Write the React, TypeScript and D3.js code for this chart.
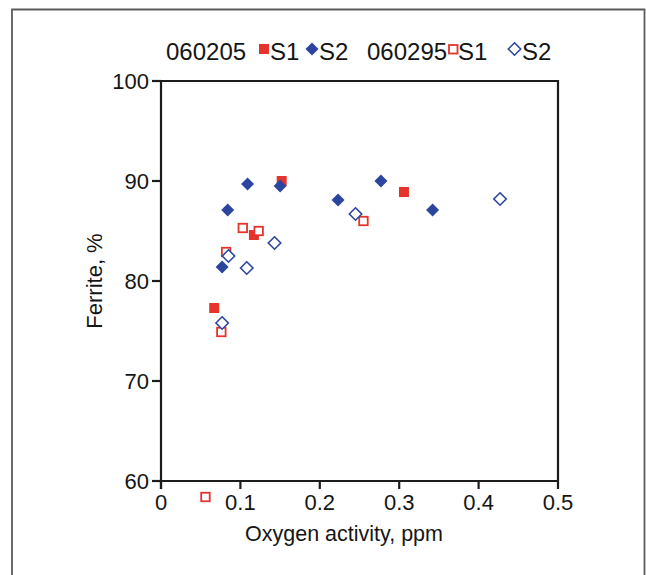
import React from "react";
import * as d3 from "d3";

// values
const xTicks = [0, 0.1, 0.2, 0.3, 0.4, 0.5];
const yTicks = [60, 70, 80, 90, 100];
const groupNames = ["060205", "060295"];
const seriesNames = ["S1", "S2"];

// 060205, S1 (filled square)
const s1Filled = [
    { x: 0.067, y: 77.3 },
    { x: 0.117, y: 84.6 },
    { x: 0.152, y: 90.0 },
    { x: 0.306, y: 88.9 },
];
// 060205, S2 (filled diamond)
const s2Filled = [
    { x: 0.077, y: 81.4 },
    { x: 0.084, y: 87.1 },
    { x: 0.109, y: 89.7 },
    { x: 0.15, y: 89.5 },
    { x: 0.223, y: 88.1 },
    { x: 0.277, y: 90.0 },
    { x: 0.342, y: 87.1 },
];
// 060295, S1 (open square)
const s1Open = [
    { x: 0.056, y: 58.4 },
    { x: 0.076, y: 74.9 },
    { x: 0.082, y: 82.9 },
    { x: 0.103, y: 85.3 },
    { x: 0.123, y: 85.0 },
    { x: 0.255, y: 86.0 },
];
// 060295, S2 (open diamond)
const s2Open = [
    { x: 0.077, y: 75.8 },
    { x: 0.085, y: 82.5 },
    { x: 0.108, y: 81.3 },
    { x: 0.143, y: 83.8 },
    { x: 0.245, y: 86.7 },
    { x: 0.427, y: 88.2 },
];

const RED = "#e5342b";
const BLUE = "#2c46a0";
const INK = "#151515";
const FONT = "'Liberation Sans', Arial, Helvetica, sans-serif";

export default function App() {
    const width = 646;
    const height = 575;
    const margin = { top: 81, right: 88, bottom: 94, left: 161 };

    const x = d3
        .scaleLinear()
        .domain([0, 0.5])
        .range([margin.left, width - margin.right]);
    const y = d3
        .scaleLinear()
        .domain([60, 100])
        .range([height - margin.bottom, margin.top]);

    const sq = 10;
    const osq = 8.5;
    const dm = 6.5;
    const odm = 6.2;
    const diamond = (r: number) => `M0,${-r}L${r},0L0,${r}L${-r},0Z`;

    return (
        <svg
            width={width}
            height={height}
            style={{ position: "absolute", left: 0, top: 0, background: "#fff" }}
            fontFamily={FONT}
        >
            {/* outer frame */}
            <path d={`M12,${height + 5}V9.5H644.5V${height + 5}`} fill="none" stroke="#5c5c5c" strokeWidth={1.8} />

            {/* legend */}
            <g fontSize={24} fill={INK}>
                <text x={166} y={60}>{groupNames[0]}</text>
                <rect x={259} y={44} width={sq} height={sq} fill={RED} />
                <text x={270} y={60}>{seriesNames[0]}</text>
                <path d={diamond(dm)} transform="translate(312,49)" fill={BLUE} />
                <text x={319} y={60}>{seriesNames[1]}</text>
                <text x={367} y={60}>{groupNames[1]}</text>
                <rect x={449} y={45} width={osq} height={osq} fill="#fff" stroke={RED} strokeWidth={1.8} />
                <text x={458} y={60}>{seriesNames[0]}</text>
                <path d={diamond(odm)} transform="translate(514.5,49)" fill="#fff" stroke={BLUE} strokeWidth={1.6} />
                <text x={522} y={60}>{seriesNames[1]}</text>
            </g>

            {/* plot frame top / right */}
            <path
                d={`M${x(0)},${y(100)}H${x(0.5)}V${y(60)}`}
                fill="none"
                stroke="#1c1c1c"
                strokeWidth={2.2}
            />

            {/* axes */}
            <line x1={x(0)} x2={x(0)} y1={y(100)} y2={y(60) + 8} stroke="#1c1c1c" strokeWidth={2.2} />
            <line x1={x(0) - 9} x2={x(0.5)} y1={y(60)} y2={y(60)} stroke="#1c1c1c" strokeWidth={2.2} />
            {xTicks.map((t) => (
                <g key={"x" + t}>
                    <line x1={x(t)} x2={x(t)} y1={y(60)} y2={y(60) + 8} stroke="#1c1c1c" strokeWidth={2.2} />
                    <text x={x(t)} y={y(60) + 29} fontSize={22} textAnchor="middle" fill={INK}>
                        {t === 0 ? "0" : d3.format(".1f")(t)}
                    </text>
                </g>
            ))}
            {yTicks.map((t) => (
                <g key={"y" + t}>
                    <line x1={x(0) - 9} x2={x(0)} y1={y(t)} y2={y(t)} stroke="#1c1c1c" strokeWidth={2.2} />
                    <text x={x(0) - 12} y={y(t) + 8} fontSize={22} textAnchor="end" fill={INK}>
                        {t}
                    </text>
                </g>
            ))}

            {/* axis titles */}
            <text x={344} y={541} fontSize={21.5} textAnchor="middle" fill={INK}>
                Oxygen activity, ppm
            </text>
            <text
                transform={`translate(102,${(y(60) + y(100)) / 2}) rotate(-90)`}
                fontSize={22}
                textAnchor="middle"
                fill={INK}
            >
                Ferrite, %
            </text>

            {/* markers */}
            {s1Filled.map((d, i) => (
                <rect key={"a" + i} x={x(d.x) - sq / 2} y={y(d.y) - sq / 2} width={sq} height={sq} fill={RED} />
            ))}
            {s1Open.map((d, i) => (
                <rect
                    key={"b" + i}
                    x={x(d.x) - osq / 2}
                    y={y(d.y) - osq / 2}
                    width={osq}
                    height={osq}
                    fill="#fff"
                    stroke={RED}
                    strokeWidth={1.8}
                />
            ))}
            {s2Filled.map((d, i) => (
                <path key={"c" + i} d={diamond(dm)} transform={`translate(${x(d.x)},${y(d.y)})`} fill={BLUE} />
            ))}
            {s2Open.map((d, i) => (
                <path
                    key={"d" + i}
                    d={diamond(odm)}
                    transform={`translate(${x(d.x)},${y(d.y)})`}
                    fill="#fff"
                    stroke={BLUE}
                    strokeWidth={1.6}
                />
            ))}
        </svg>
    );
}
